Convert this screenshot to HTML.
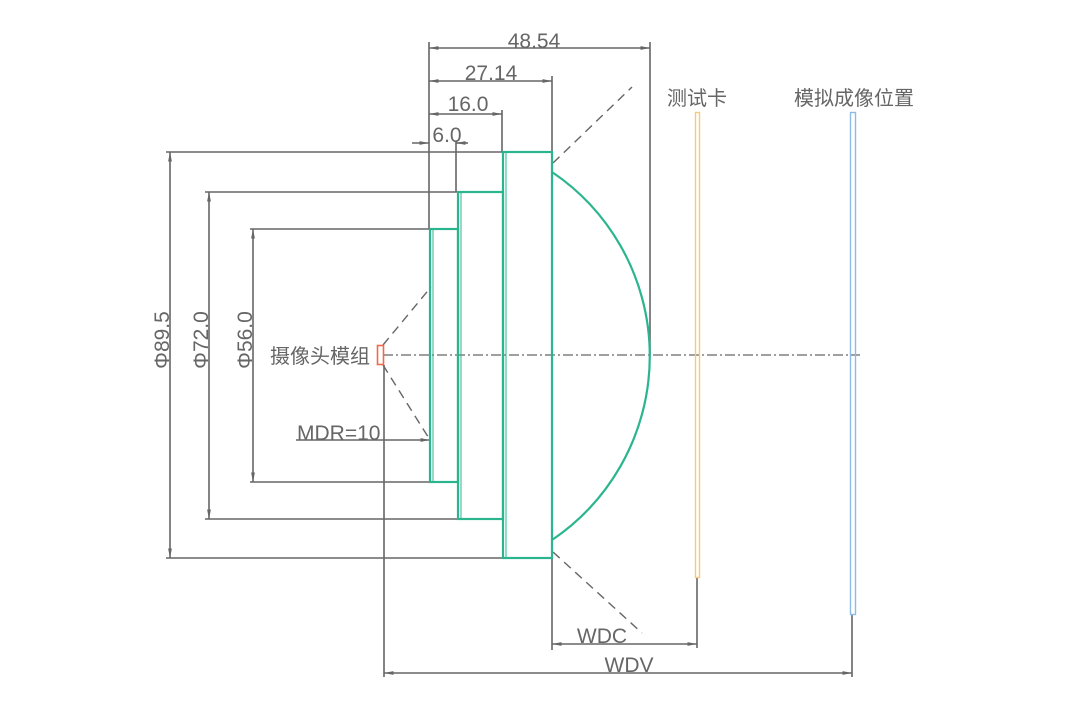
<!DOCTYPE html>
<html><head><meta charset="utf-8"><style>
html,body{margin:0;padding:0;background:#fff;}
svg text{font-family:"Liberation Sans","Noto Sans CJK SC",sans-serif;fill:#666;}
</style></head><body>
<svg width="1070" height="698" viewBox="0 0 1070 698" xmlns="http://www.w3.org/2000/svg">
<defs>
<marker id="a" viewBox="0 0 10 10" refX="10" refY="5" markerWidth="6" markerHeight="6" orient="auto-start-reverse"><path d="M0,3 L10,5 L0,7 z" fill="#666"/></marker>
</defs>
<g stroke="#666" stroke-width="1.6" fill="none">
<line x1="429" y1="42" x2="429" y2="229"/>
<line x1="650" y1="42" x2="650" y2="355"/>
<line x1="429" y1="48" x2="650" y2="48" marker-start="url(#a)" marker-end="url(#a)"/>
<line x1="552" y1="76" x2="552" y2="152"/>
<line x1="429" y1="81" x2="552" y2="81" marker-start="url(#a)" marker-end="url(#a)"/>
<line x1="502" y1="110" x2="502" y2="152"/>
<line x1="429" y1="114" x2="502" y2="114" marker-start="url(#a)" marker-end="url(#a)"/>
<line x1="456" y1="141" x2="456" y2="192"/>
<line x1="412" y1="143" x2="429" y2="143" marker-end="url(#a)"/>
<line x1="468" y1="143" x2="456" y2="143" marker-end="url(#a)"/>
<line x1="166" y1="152" x2="503" y2="152"/>
<line x1="166" y1="558" x2="503" y2="558"/>
<line x1="170" y1="152" x2="170" y2="558" marker-start="url(#a)" marker-end="url(#a)"/>
<line x1="205" y1="192" x2="458" y2="192"/>
<line x1="205" y1="519" x2="458" y2="519"/>
<line x1="209" y1="192" x2="209" y2="519" marker-start="url(#a)" marker-end="url(#a)"/>
<line x1="250" y1="229" x2="430" y2="229"/>
<line x1="250" y1="482" x2="430" y2="482"/>
<line x1="253" y1="229" x2="253" y2="482" marker-start="url(#a)" marker-end="url(#a)"/>
<line x1="296" y1="440" x2="384" y2="440"/>
<line x1="384" y1="440" x2="430" y2="440" marker-end="url(#a)"/>
<line x1="384" y1="365" x2="384" y2="677"/>
<line x1="552" y1="558" x2="552" y2="650"/>
<line x1="697" y1="577" x2="697" y2="648"/>
<line x1="552" y1="644" x2="697" y2="644" marker-start="url(#a)" marker-end="url(#a)"/>
<line x1="852" y1="614" x2="852" y2="677"/>
<line x1="384" y1="673" x2="852" y2="673" marker-start="url(#a)" marker-end="url(#a)"/>
</g>
<g stroke="#666" stroke-width="1.4" fill="none" stroke-dasharray="9,6">
<line x1="553" y1="163" x2="632" y2="87"/>
<line x1="553" y1="552" x2="642" y2="633"/>
<line x1="383" y1="345" x2="431" y2="287"/>
<line x1="383" y1="365" x2="430" y2="440"/>
</g>
<line x1="383" y1="355" x2="860" y2="355" stroke="#666" stroke-width="1.3" stroke-dasharray="10,3,2,3"/>
<g stroke="#2bb58e" stroke-width="2.2" fill="none">
<rect x="503" y="152" width="49" height="406"/>
<line x1="506" y1="152" x2="506" y2="558" stroke-width="1"/>
<rect x="458" y="192" width="45" height="327"/>
<line x1="461" y1="192" x2="461" y2="519" stroke-width="1"/>
<rect x="430" y="229" width="28" height="253"/>
<line x1="433" y1="229" x2="433" y2="482" stroke-width="1"/>
<path d="M552,172 A222,222 0 0 1 552,540"/>
</g>
<rect x="377.5" y="345.5" width="6" height="19" fill="none" stroke="#ef6a4a" stroke-width="1.6"/>
<rect x="695.5" y="112.5" width="4" height="465" fill="none" stroke="#f7c978" stroke-width="1.4"/>
<rect x="850.5" y="112.5" width="5" height="502" fill="none" stroke="#8dbbe8" stroke-width="1.4"/>
<g font-size="21">
<text x="534" y="48" text-anchor="middle">48.54</text>
<text x="491" y="80" text-anchor="middle">27.14</text>
<text x="468" y="111" text-anchor="middle">16.0</text>
<text x="447" y="142" text-anchor="middle">6.0</text>
<text x="297" y="440">MDR=10</text>
<text x="602" y="643" text-anchor="middle">WDC</text>
<text x="629" y="672" text-anchor="middle">WDV</text>
<text transform="translate(169,340) rotate(-90)" text-anchor="middle">Φ89.5</text>
<text transform="translate(208,340) rotate(-90)" text-anchor="middle">Φ72.0</text>
<text transform="translate(252,340) rotate(-90)" text-anchor="middle">Φ56.0</text>
</g>
<g font-size="20">
<text x="270" y="363">摄像头模组</text>
<text x="667" y="105">测试卡</text>
<text x="794" y="105">模拟成像位置</text>
</g>
</svg>
</body></html>
